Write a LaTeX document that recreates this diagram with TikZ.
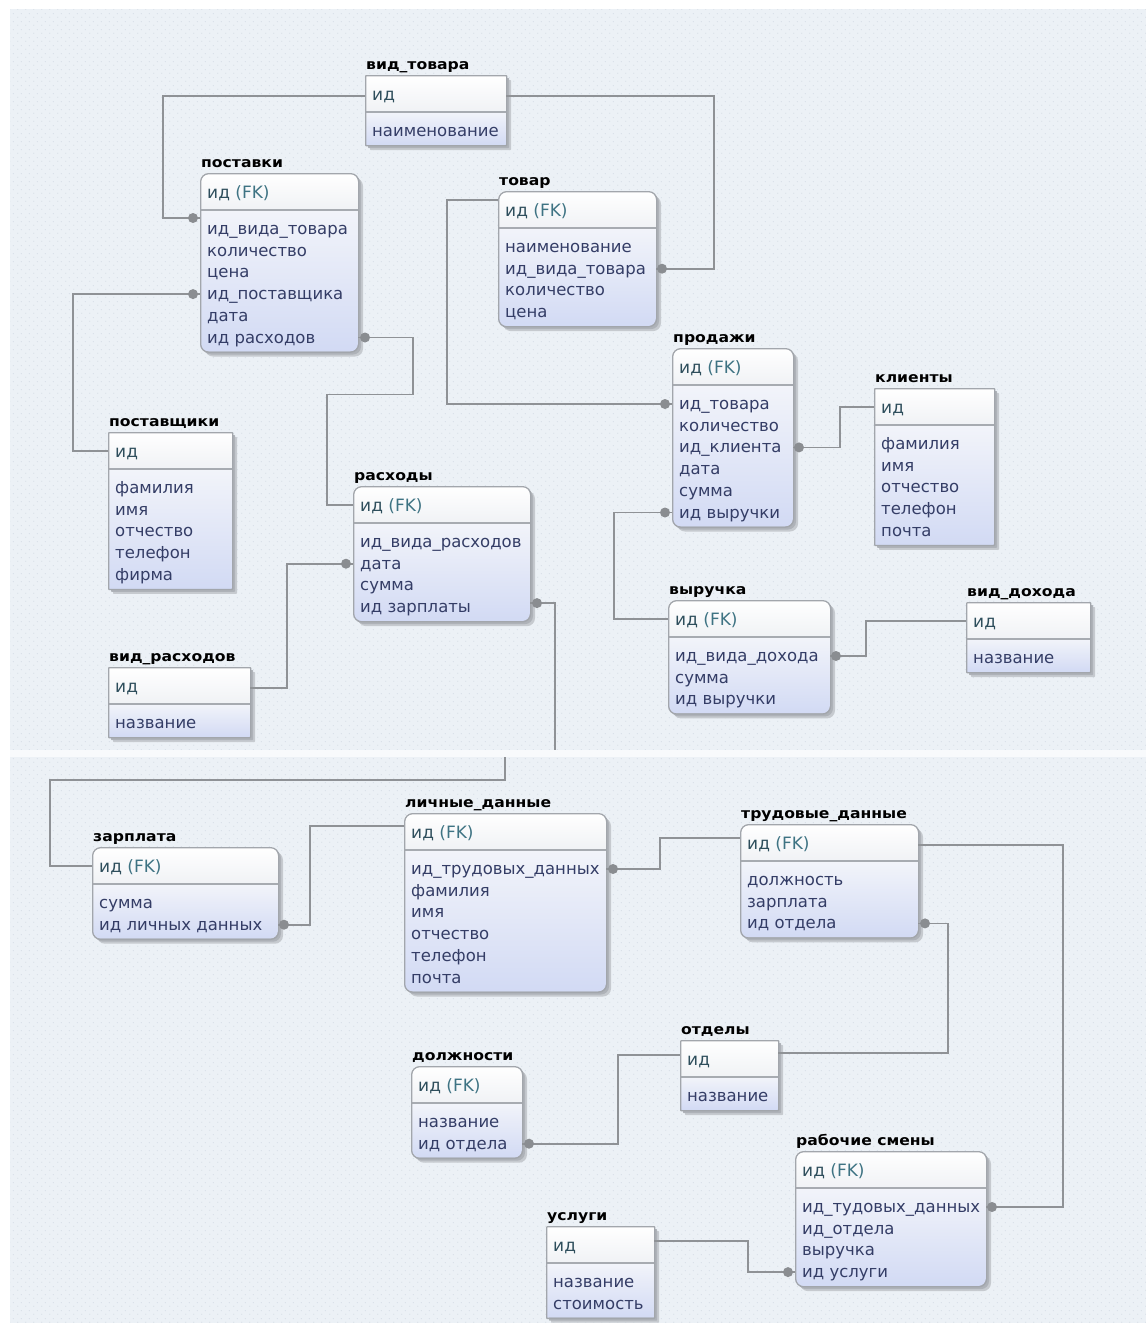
\documentclass[tikz,border=0pt]{standalone}
\usepackage{fontspec}
\setmainfont{DejaVu Sans}
\newfontfamily\ertitlefont{DejaVu Sans}[FakeStretch=1.1]
\usetikzlibrary{patterns.meta}

\definecolor{bgcol}{HTML}{ECF1F6}
\definecolor{dotcol}{HTML}{D9E0E8}
\definecolor{stripcol}{HTML}{F8FAFC}
\definecolor{bordercol}{HTML}{A2A6AC}
\definecolor{sepcol}{HTML}{A7ABB1}
\definecolor{shadowA}{HTML}{C6CACF}
\definecolor{shadowB}{HTML}{AEB2B8}
\definecolor{headbot}{HTML}{F0F2F5}
\definecolor{bodytop}{HTML}{F2F4FA}
\definecolor{bodybot}{HTML}{D2DAF4}
\definecolor{conncol}{HTML}{8F9296}
\definecolor{fkdotcol}{HTML}{8A8D91}
\definecolor{fieldcol}{HTML}{343D66}
\definecolor{headcol}{HTML}{2E4E5C}
\definecolor{fkcol}{HTML}{3E7383}

% faint dotted canvas texture
\tikzdeclarepattern{
  name=erdots,
  type=uncolored,
  bounding box={(0pt,0pt) and (8pt,8pt)},
  tile size={(8pt,8pt)},
  code={\pgfpathcircle{\pgfpoint{2pt}{2pt}}{0.7pt}%
        \pgfpathcircle{\pgfpoint{6pt}{6pt}}{0.7pt}\pgfusepath{fill}}
}

\tikzset{
  tablebox/.style={draw=bordercol, line width=1.3pt, inner sep=0pt, fill=none},
  fkbox/.style={rounded corners=8pt},
  pkbox/.style={rounded corners=0.6pt},
  sepline/.style={draw=sepcol, line width=1.1pt},
  tabletitle/.style={inner sep=0pt, font=\ertitlefont\bfseries\fontsize{14.2}{16}\selectfont, text=black},
  headtext/.style={inner sep=0pt, font=\fontsize{17}{20}\selectfont, text=headcol},
  fieldtext/.style={inner sep=0pt, font=\fontsize{16.5}{19}\selectfont, text=fieldcol},
  conn/.style={draw=conncol, line width=1.6pt},
  fkdot/.style={fill=fkdotcol},
  canvas/.style={fill=bgcol},
  canvasdots/.style={pattern=erdots, pattern color=dotcol},
}

% #1 name, #2 left, #3 top, #4 width, #5 corner style,
% #6 title, #7 key row, #8 field rows, #9 number of field rows
\newcommand{\ertable}[9]{%
  \pgfmathsetmacro\erH{70+(#9-1)*21.7}
  \fill[shadowA,#5] (#2+5,#3+5) rectangle ++(#4,\erH);
  \fill[shadowB,#5] (#2+3,#3+3) rectangle ++(#4,\erH);
  \begin{scope}
    \clip[#5] (#2,#3) rectangle ++(#4,\erH);
    \shade[top color=bodytop, bottom color=bodybot] (#2,#3+37) rectangle ++(#4,\erH-37);
    \shade[top color=white, bottom color=headbot] (#2,#3) rectangle ++(#4,37);
  \end{scope}
  \draw[sepline] (#2,#3+37) -- ++(#4,0);
  \node[tablebox,#5,anchor=north west,minimum width=#4pt,minimum height=\erH pt] (#1) at (#2,#3) {};
  \node[tabletitle,anchor=base west] (#1-t) at (#2+1,#3-6) {#6};
  \node[headtext,anchor=base west] (#1-h) at (#2+7,#3+25) {#7};
  \coordinate (#1-hL) at (#2,#3+19);
  \coordinate (#1-hR) at (#2+#4,#3+19);
  \foreach \r [count=\k] in {#8} {
    \node[fieldtext,anchor=base west] (#1-\k) at (#2+7,#3+61.5+\k*21.7-21.7) {\r};
    \coordinate (#1-\k L) at (#2,#3+56+\k*21.7-21.7);
    \coordinate (#1-\k R) at (#2+#4,#3+56+\k*21.7-21.7);
  }
}

\newcommand{\fkid}{\textcolor{headcol}{ид} \textcolor{fkcol}{(FK)}}

\begin{document}
\begin{tikzpicture}[x=1pt,y=-1pt]
\useasboundingbox (0,0) rectangle (1146,1323);
\fill[white] (0,0) rectangle (1146,1323);

% two canvas panels
\fill[canvas] (10,9) rectangle (1146,750);
\fill[canvasdots] (10,9) rectangle (1146,750);
\fill[stripcol] (10,750) rectangle (1146,757);
\fill[canvas] (10,757) rectangle (1146,1323);
\fill[canvasdots] (10,757) rectangle (1146,1323);

% ---------- tables, upper panel ----------
\ertable{vidtovara}{365}{75}{141}{pkbox}{вид\_товара}{ид}{наименование}{1}
\ertable{postavki}{200}{173}{158}{fkbox}{поставки}{\fkid}
  {ид\_вида\_товара,количество,цена,ид\_поставщика,дата,ид расходов}{6}
\ertable{tovar}{498}{191}{158}{fkbox}{товар}{\fkid}
  {наименование,ид\_вида\_товара,количество,цена}{4}
\ertable{postavshiki}{108}{432}{124}{pkbox}{поставщики}{ид}
  {фамилия,имя,отчество,телефон,фирма}{5}
\ertable{raskhody}{353}{486}{177}{fkbox}{расходы}{\fkid}
  {ид\_вида\_расходов,дата,сумма,ид зарплаты}{4}
\ertable{vidraskhodov}{108}{667}{142}{pkbox}{вид\_расходов}{ид}{название}{1}
\ertable{prodazhi}{672}{348}{121}{fkbox}{продажи}{\fkid}
  {ид\_товара,количество,ид\_клиента,дата,сумма,ид выручки}{6}
\ertable{klienty}{874}{388}{120}{pkbox}{клиенты}{ид}
  {фамилия,имя,отчество,телефон,почта}{5}
\ertable{vyruchka}{668}{600}{162}{fkbox}{выручка}{\fkid}
  {ид\_вида\_дохода,сумма,ид выручки}{3}
\ertable{viddokhoda}{966}{602}{124}{pkbox}{вид\_дохода}{ид}{название}{1}

% ---------- tables, lower panel ----------
\ertable{zarplata}{92}{847}{186}{fkbox}{зарплата}{\fkid}
  {сумма,ид личных данных}{2}
\ertable{lichnye}{404}{813}{202}{fkbox}{личные\_данные}{\fkid}
  {ид\_трудовых\_данных,фамилия,имя,отчество,телефон,почта}{6}
\ertable{trudovye}{740}{824}{178}{fkbox}{трудовые\_данные}{\fkid}
  {должность,зарплата,ид отдела}{3}
\ertable{dolzhnosti}{411}{1066}{111}{fkbox}{должности}{\fkid}
  {название,ид отдела}{2}
\ertable{otdely}{680}{1040}{98}{pkbox}{отделы}{ид}{название}{1}
\ertable{rabochie}{795}{1151}{191}{fkbox}{рабочие смены}{\fkid}
  {ид\_тудовых\_данных,ид\_отдела,выручка,ид услуги}{4}
\ertable{uslugi}{546}{1226}{108}{pkbox}{услуги}{ид}
  {название,стоимость}{2}

% ---------- relationships ----------
\coordinate (cutA) at (555,750);
\coordinate (cutB) at (505,757);

\draw[conn] ([yshift=-2pt]vidtovara-hL) -| ([xshift=-37pt,yshift=11pt]postavki-1L) -- ([yshift=11pt]postavki-1L);
\draw[conn] ([yshift=-2pt]vidtovara-hR) -| ([xshift=58pt]tovar-2R) -- (tovar-2R);
\draw[conn] (postavshiki-hL) -| ([xshift=-127pt]postavki-4L) -- (postavki-4L);
\draw[conn] (postavki-6R) -- ++(55,0) -- ++(0,57) -| ([xshift=-26pt]raskhody-hL) -- (raskhody-hL);
\draw[conn] ([yshift=10pt]tovar-hL) -| ([xshift=-225pt]prodazhi-1L) -- (prodazhi-1L);
\draw[conn] (prodazhi-3R) -| ([xshift=-34pt]klienty-hL) -- (klienty-hL);
\draw[conn] (prodazhi-6L) -| ([xshift=-54pt]vyruchka-hL) -- (vyruchka-hL);
\draw[conn] (vyruchka-1R) -| ([xshift=-100pt]viddokhoda-hL) -- (viddokhoda-hL);
\draw[conn] ([yshift=-2pt]vidraskhodov-hR) -| ([xshift=-66pt]raskhody-2L) -- (raskhody-2L);
\draw[conn] ([yshift=4pt]raskhody-4R) -| (cutA);
\draw[conn] (cutB) -- ++(0,23) -| ([xshift=-42pt]zarplata-hL) -- (zarplata-hL);
\draw[conn] (zarplata-2R) -| ([xshift=-94pt,yshift=6pt]lichnye-hL) -- ([yshift=6pt]lichnye-hL);
\draw[conn] (lichnye-1R) -| ([xshift=-80pt,yshift=5pt]trudovye-hL) -- ([yshift=5pt]trudovye-hL);
\draw[conn] ([yshift=-2pt]trudovye-hR) -| ([xshift=77pt]rabochie-1R) -- (rabochie-1R);
\draw[conn] (trudovye-3R) -| ([xshift=170pt,yshift=6pt]otdely-hR) -- ([yshift=6pt]otdely-hR);
\draw[conn] (dolzhnosti-2R) -| ([xshift=-62pt,yshift=4pt]otdely-hL) -- ([yshift=4pt]otdely-hL);
\draw[conn] ([yshift=4pt]uslugi-hR) -| ([xshift=-47pt]rabochie-4L) -- (rabochie-4L);

% foreign-key ends
\fill[fkdot] ([xshift=-7pt,yshift=11pt]postavki-1L) circle (5pt);
\fill[fkdot] ([xshift=6pt]tovar-2R) circle (5pt);
\fill[fkdot] ([xshift=-7pt]postavki-4L) circle (5pt);
\fill[fkdot] ([xshift=7pt]postavki-6R) circle (5pt);
\fill[fkdot] ([xshift=-7pt]prodazhi-1L) circle (5pt);
\fill[fkdot] ([xshift=6pt]prodazhi-3R) circle (5pt);
\fill[fkdot] ([xshift=-7pt]prodazhi-6L) circle (5pt);
\fill[fkdot] ([xshift=6pt]vyruchka-1R) circle (5pt);
\fill[fkdot] ([xshift=-7pt]raskhody-2L) circle (5pt);
\fill[fkdot] ([xshift=7pt,yshift=4pt]raskhody-4R) circle (5pt);
\fill[fkdot] ([xshift=6pt]zarplata-2R) circle (5pt);
\fill[fkdot] ([xshift=7pt]lichnye-1R) circle (5pt);
\fill[fkdot] ([xshift=6pt]rabochie-1R) circle (5pt);
\fill[fkdot] ([xshift=7pt]trudovye-3R) circle (5pt);
\fill[fkdot] ([xshift=7pt]dolzhnosti-2R) circle (5pt);
\fill[fkdot] ([xshift=-7pt]rabochie-4L) circle (5pt);
\end{tikzpicture}
\end{document}
